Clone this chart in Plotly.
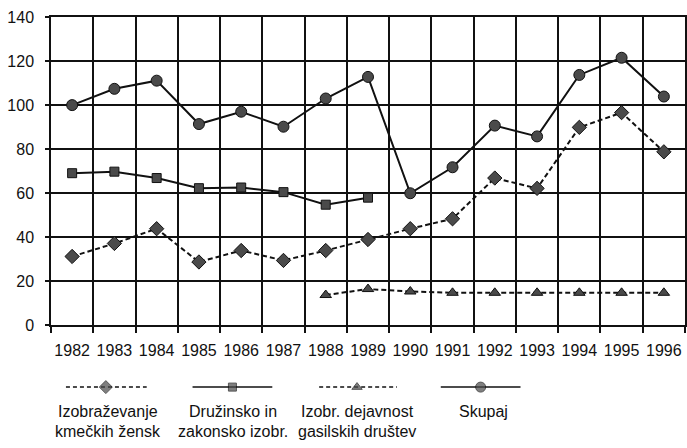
import plotly.graph_objects as go

years = ["1982", "1983", "1984", "1985", "1986", "1987", "1988", "1989",
         "1990", "1991", "1992", "1993", "1994", "1995", "1996"]

izobrazevanje = [31.3, 37.2, 43.9, 28.8, 34.0, 29.5, 34.0, 39.0,
                 43.9, 48.4, 66.9, 62.2, 89.9, 96.6, 78.8]
druzinsko = [69.1, 69.8, 66.9, 62.3, 62.6, 60.5, 54.8, 58.0,
             None, None, None, None, None, None, None]
gasilska = [None, None, None, None, None, None, 13.8, 16.5,
            15.4, 14.8, 14.8, 14.8, 14.8, 14.8, 14.8]
skupaj = [100.0, 107.4, 111.1, 91.4, 97.0, 90.2, 103.0, 112.8,
          60.0, 71.8, 90.7, 85.8, 113.7, 121.5, 103.9]

legend_line1 = ["Izobraževanje", "Družinsko in", "Izobr. dejavnost", "Skupaj"]
legend_line2 = ["kmečkih žensk", "zakonsko izobr.", "gasilskih društev", ""]

y_ticks = [0, 20, 40, 60, 80, 100, 120, 140]

FONT = "Liberation Sans, Arial, Helvetica, sans-serif"
INK = "#111111"
MFILL = "#4a4a4a"

styles = [
    dict(dash="5px,3px", symbol="diamond", size=11),
    dict(dash="solid", symbol="square", size=9),
    dict(dash="5px,3px", symbol="triangle-up", size=10),
    dict(dash="solid", symbol="circle", size=11),
]
series = [izobrazevanje, druzinsko, gasilska, skupaj]

fig = go.Figure()
for vals, st in zip(series, styles):
    fig.add_trace(go.Scatter(
        x=years, y=vals, mode="lines+markers",
        line=dict(color=INK, width=2, dash=st["dash"]),
        marker=dict(symbol=st["symbol"], size=st["size"], color=MFILL,
                    line=dict(color=INK, width=1)),
        connectgaps=False, showlegend=False, xaxis="x", yaxis="y",
    ))

# legend samples on a hidden helper axis below the chart (page-pixel-like units)
leg_left = [66, 193, 320, 442]
leg_mid = [106, 233, 358, 482]
leg_right = [147, 273, 398, 522]
text_centers = [108, 234, 358, 485]
leg_y = 395
for x0, xm, x1, tx, st, l1, l2 in zip(leg_left, leg_mid, leg_right, text_centers,
                                      styles, legend_line1, legend_line2):
    fig.add_trace(go.Scatter(
        x=[x0, xm, x1], y=[leg_y, leg_y, leg_y],
        mode="lines+markers",
        line=dict(color=INK, width=1.5, dash="4px,3px" if st["dash"] != "solid" else "solid"),
        marker=dict(symbol=st["symbol"], size=[0, st["size"] - 1, 0], color=MFILL,
                    line=dict(color=INK, width=[0, 1, 0])),
        showlegend=False, xaxis="x2", yaxis="y2", hoverinfo="skip",
    ))
    for txt, ty in ((l1, 420), (l2, 440)):
        if txt:
            fig.add_annotation(x=tx, y=ty, xref="x2", yref="y2", text=txt,
                               showarrow=False, font=dict(family=FONT, size=16, color=INK),
                               xanchor="center", yanchor="middle")

W, H = 687, 448
T, B, L = 17, 116, 51
ph = H - T

fig.update_layout(
    width=W, height=H,
    margin=dict(l=L, r=0, t=T, b=0),
    paper_bgcolor="white", plot_bgcolor="white",
    font=dict(family=FONT, size=16, color=INK),
    xaxis=dict(type="category", domain=[0, 1], anchor="y",
               tickson="boundaries", ticks="outside", ticklen=6, tickwidth=1.5,
               tickcolor=INK, showgrid=True, gridcolor=INK, gridwidth=1.5,
               showline=True, linecolor=INK, linewidth=1.5, mirror=True,
               tickangle=0, tickfont=dict(family=FONT, size=16, color=INK),
               ticklabelstandoff=10, range=[-0.5, 14.5]),
    yaxis=dict(domain=[B / ph, 1], anchor="x", range=[0, 140],
               tickvals=y_ticks, ticks="outside", ticklen=4, tickwidth=1.5,
               tickcolor=INK, showgrid=True, gridcolor=INK, gridwidth=1.5,
               showline=True, linecolor=INK, linewidth=1.5, mirror=True,
               zeroline=False, ticklabelstandoff=8,
               tickfont=dict(family=FONT, size=16, color=INK)),
    xaxis2=dict(domain=[0, 1], anchor="y2", range=[L, W], visible=False,
                fixedrange=True),
    yaxis2=dict(domain=[0, 86 / ph], anchor="x2", range=[448, 362], visible=False,
                fixedrange=True),
)

fig.write_html(
    "out.html",
    config={"displayModeBar": False},
    post_script="document.body.style.margin='0';document.body.style.overflow='hidden';",
)
